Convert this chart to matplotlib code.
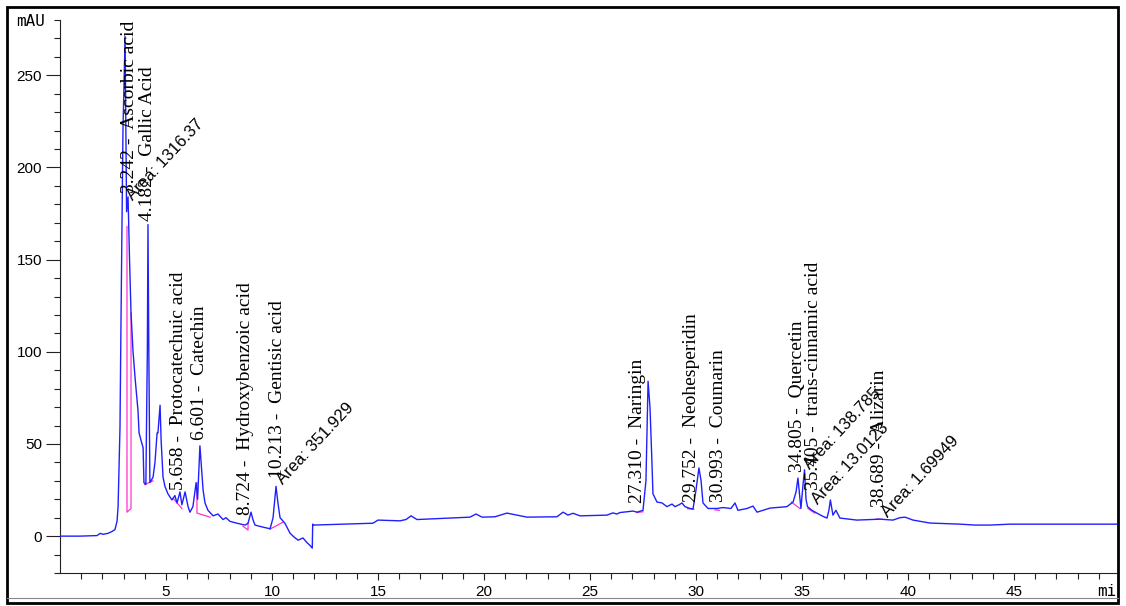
import numpy as np
import matplotlib
matplotlib.use("Agg")
import matplotlib.pyplot as plt
from matplotlib.transforms import Bbox, TransformedBbox
from matplotlib.patches import Rectangle
from matplotlib.lines import Line2D

# ---------------- data ----------------
trace_time = [0.0, 0.94, 1.75, 1.89, 2.03, 2.26, 2.45, 2.59, 2.69, 2.74, 2.83, 2.88, 2.97, 3.07,
              3.14, 3.21, 3.28, 3.35, 3.44, 3.54, 3.63, 3.68, 3.73, 3.82, 3.92, 3.96, 4.05, 4.12,
              4.15, 4.19, 4.24, 4.39, 4.48, 4.58, 4.62, 4.72, 4.77, 4.86, 4.95, 5.09, 5.28, 5.42,
              5.52, 5.66, 5.75, 5.90, 6.04, 6.13, 6.27, 6.42, 6.49, 6.60, 6.75, 6.84, 6.98, 7.22,
              7.45, 7.69, 7.83, 8.02, 8.35, 8.73, 8.87, 9.01, 9.10, 9.20, 9.53, 9.91, 10.05, 10.19,
              10.28, 10.38, 10.61, 10.85, 11.04, 11.23, 11.46, 11.65, 11.79, 11.90, 11.92, 11.95,
              14.76, 15.00, 16.04, 16.32, 16.56, 16.84, 18.40, 19.34, 19.62, 19.91, 20.52, 21.08,
              22.03, 23.44, 23.73, 23.96, 24.20, 24.53, 25.80, 26.08, 26.27, 26.42, 27.03, 27.22,
              27.50, 27.64, 27.74, 27.83, 27.92, 27.97, 28.16, 28.40, 28.63, 28.87, 29.01, 29.20,
              29.34, 29.48, 29.72, 29.86, 30.00, 30.14, 30.24, 30.33, 30.57, 30.99, 31.27, 31.65,
              31.84, 31.98, 32.41, 32.69, 32.88, 33.49, 34.29, 34.58, 34.72, 34.81, 34.91, 34.95,
              35.05, 35.12, 35.19, 35.26, 35.47, 35.71, 35.94, 36.18, 36.27, 36.34, 36.46, 36.60,
              36.79, 37.59, 38.68, 39.29, 39.62, 39.86, 40.24, 41.04, 42.45, 43.16, 43.87, 44.81,
              49.86]
trace_mau = [0.0, 0.0, 0.3, 1.5, 1.0, 1.5, 2.5, 3.5, 8.0, 16.0, 59.0, 120.0, 220.0, 271.0,
             176.0, 184.0, 150.0, 121.0, 101.0, 86.0, 74.0, 68.0, 56.0, 52.0, 48.0, 29.0, 28.0, 100.0,
             169.0, 100.0, 29.0, 32.0, 40.0, 56.0, 56.0, 71.0, 52.0, 32.0, 27.0, 23.0, 19.6, 22.0,
             18.0, 24.0, 17.0, 24.0, 16.0, 13.0, 16.0, 29.0, 20.0, 49.0, 25.0, 18.0, 14.0, 11.0,
             12.0, 9.0, 10.0, 8.0, 7.0, 6.0, 7.0, 13.0, 9.0, 6.0, 5.0, 4.0, 10.0, 27.0,
             18.0, 10.0, 7.0, 1.6, -0.5, -2.2, -1.0, -3.5, -5.0, -6.5, 6.5, 6.0,
             7.0, 8.7, 8.3, 9.0, 11.0, 9.0, 9.8, 10.3, 12.0, 10.3, 10.5, 12.5,
             10.3, 10.5, 13.0, 11.4, 12.4, 11.0, 11.4, 12.6, 12.0, 12.8, 13.6, 13.0,
             14.0, 30.0, 84.0, 70.0, 41.0, 23.0, 18.5, 18.0, 16.0, 17.4, 16.0, 17.0,
             18.0, 16.0, 15.0, 14.7, 25.0, 37.0, 30.0, 18.0, 15.0, 15.0, 15.5, 15.0,
             18.0, 14.0, 15.0, 16.3, 13.0, 15.2, 16.0, 18.5, 24.0, 31.5, 20.0, 15.0,
             28.0, 36.0, 20.0, 16.0, 14.0, 12.5, 11.0, 9.8, 14.0, 19.6, 11.4, 14.0,
             9.8, 8.7, 9.2, 8.7, 10.0, 10.3, 8.7, 7.1, 6.5, 6.0, 6.0, 6.5,
             6.5]

# integration baselines / drop lines (pink), each a short polyline
baseline_segments = [
    [(3.16, 168.0), (3.16, 13.0), (3.35, 15.0), (3.35, 121.0)],
    [(4.00, 28.0), (4.39, 30.0)],
    [(5.33, 20.6), (5.75, 15.0)],
    [(6.46, 29.0), (6.46, 12.5), (7.08, 10.3)],
    [(8.63, 5.4), (8.87, 3.3), (8.87, 7.0)],
    [(9.91, 3.8), (10.52, 7.6)],
    [(27.20, 12.8), (27.50, 13.2)],
    [(29.60, 14.9), (29.90, 14.6)],
    [(30.90, 14.2), (31.10, 14.0)],
    [(34.50, 18.5), (34.90, 15.0)],
    [(35.28, 15.0), (35.60, 12.5)],
    [(38.50, 9.3), (38.80, 9.1)],
]

peak_labels = ["3.242 -  Ascorbic acid", "4.182 -  Gallic Acid", "5.658 -  Protocatechuic acid",
               "6.601 -  Catechin", "8.724 -  Hydroxybenzoic acid", "10.213 -  Gentisic acid",
               "27.310 -  Naringin", "29.752 -  Neohesperidin", "30.993 -  Coumarin",
               "34.805 -  Quercetin", "35.405 -  trans-cinnamic acid", "38.689 -  Alizarin"]
peak_label_time = [3.30, 4.15, 5.61, 6.60, 8.73, 10.24, 27.26, 29.81, 31.04, 34.81, 35.52, 38.68]
peak_label_mau = [186.0, 171.0, 25.0, 52.0, 11.4, 31.5, 18.0, 18.5, 18.5, 34.8, 25.0, 15.8]

area_labels = ["Area: 1316.37", "Area: 351.929", "Area: 138.785", "Area: 13.0123", "Area: 1.69949"]
area_label_time = [3.44, 10.52, 35.38, 35.75, 39.06]
area_label_mau = [182.0, 27.5, 36.0, 17.0, 9.8]

y_major = [0, 50, 100, 150, 200, 250]
x_major = [5, 10, 15, 20, 25, 30, 35, 40, 45]

# ---------------- figure ----------------
W, H = 1126, 606
fig = plt.figure(figsize=(W / 100, H / 100), dpi=100)
fig.patch.set_facecolor("white")

ax_l, ax_r, ax_t, ax_b = 60, 1117, 20, 573
ax = fig.add_axes([ax_l / W, (H - ax_b) / H, (ax_r - ax_l) / W, (ax_b - ax_t) / H])
ax.set_xlim(0, 49.86)
ax.set_ylim(-20, 280)

ax.plot(trace_time, trace_mau, color="#2020ff", lw=1.0, zorder=3, solid_joinstyle="round")
for seg in baseline_segments:
    xs, ys = zip(*seg)
    ax.plot(xs, ys, color="#ff33cc", lw=0.9, zorder=2)

for s in ["top", "right"]:
    ax.spines[s].set_visible(False)
for s in ["left", "bottom"]:
    ax.spines[s].set_linewidth(0.8)
    ax.spines[s].set_color("#222222")

ax.set_yticks(y_major)
ax.set_yticks(np.arange(-20, 281, 10), minor=True)
ax.set_xticks(x_major)
ax.set_xticks(np.arange(1, 50, 1), minor=True)
ax.tick_params(axis="y", which="major", length=10, width=0.8, pad=3, labelsize=11, colors="#222222")
ax.tick_params(axis="y", which="minor", length=4, width=0.8, colors="#222222")
ax.tick_params(axis="x", which="major", length=5, width=0.8, pad=4, labelsize=11, colors="#222222")
ax.tick_params(axis="x", which="minor", length=4, width=0.8, colors="#222222")
for lab in ax.get_xticklabels() + ax.get_yticklabels():
    lab.set_fontfamily("Liberation Sans")
    lab.set_color("black")

for txt, t, v in zip(peak_labels, peak_label_time, peak_label_mau):
    ax.text(t, v, txt, rotation=90, ha="center", va="bottom", fontsize=14,
            family="Liberation Serif", color="black", zorder=5, clip_on=False)

for txt, t, v in zip(area_labels, area_label_time, area_label_mau):
    ax.text(t, v, txt, rotation=47, rotation_mode="anchor", ha="left", va="baseline",
            fontsize=12, family="Liberation Sans", color="black", zorder=5, clip_on=False)

# axis unit labels
fig.text(31 / W, 1 - 21 / H, "mAU", ha="center", va="center", fontsize=11.5,
         family="DejaVu Sans Mono", color="black")
mt = fig.text(1097 / W, 1 - 592 / H, "min", ha="left", va="center", fontsize=11.5,
              family="DejaVu Sans Mono", color="black")
mt.set_clip_box(TransformedBbox(Bbox.from_extents(0, 0, 1116 / W, 1), fig.transFigure))
mt.set_clip_on(True)

# outer frame
fig.add_artist(Rectangle((7 / W, 1 - 603 / H), (1118 - 7) / W, (603 - 7) / H,
                         transform=fig.transFigure, fill=False, lw=2.0, edgecolor="black"))
fig.add_artist(Line2D([7 / W, 1118 / W], [1 - 598 / H, 1 - 598 / H], transform=fig.transFigure,
                      color="#888888", lw=0.8))

fig.savefig("out.png", dpi=100)
